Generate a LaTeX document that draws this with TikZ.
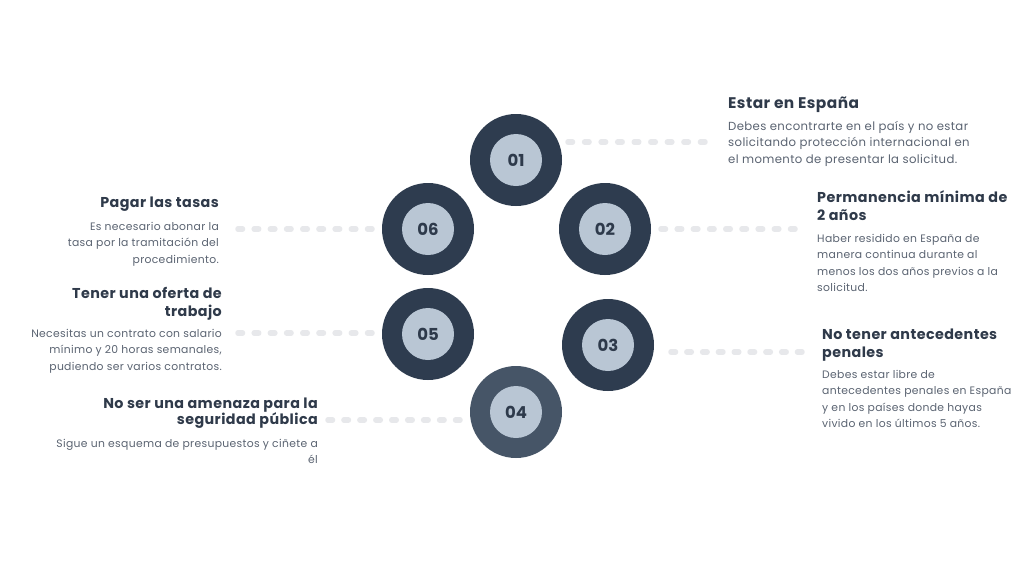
\documentclass[tikz,border=0pt]{standalone}
\usepackage{fontspec}
\setmainfont{Poppins}
\newfontfamily\spacedfont[LetterSpace=3]{Poppins}
\definecolor{ringdark}{HTML}{2E3C4F}
\definecolor{ringlight}{HTML}{465567}
\definecolor{core}{HTML}{B9C6D4}
\definecolor{numcol}{HTML}{2E3A4B}
\definecolor{titlecol}{HTML}{2F3A4A}
\definecolor{bodycol}{HTML}{5B6472}
\definecolor{dotcol}{HTML}{E7E8EB}
\newcommand\LeftLines[2]{\vtop{\baselineskip=#1\halign{##\hfil\cr#2\crcr}}}
\newcommand\RightLines[2]{\vtop{\baselineskip=#1\halign{\hfil##\cr#2\crcr}}}
\tikzset{
  ring/.style={circle, fill=ringdark, minimum size=92pt, inner sep=0pt},
  ringalt/.style={ring, fill=ringlight},
  corebox/.style={circle, fill=core, minimum size=52pt, inner sep=0pt, text=numcol, font=\fontsize{16.5}{16.5}\selectfont\bfseries},
  titletext/.style={inner sep=0pt, text=titlecol, font=\spacedfont\fontsize{14.3}{18}\selectfont\bfseries},
  titletextbig/.style={titletext, font=\spacedfont\fontsize{15.4}{18}\selectfont\bfseries},
  bodytext/.style={inner sep=0pt, text=bodycol, font=\spacedfont\fontsize{10.8}{16.5}\selectfont},
  bodytextbig/.style={bodytext, font=\spacedfont\fontsize{11.7}{16.5}\selectfont},
  dotline/.style={draw=dotcol, line width=5.5pt, line cap=round, dash pattern=on 4.5pt off #1pt}
}
\begin{document}
\begin{tikzpicture}[x=1pt,y=-1pt]
\useasboundingbox[fill=white] (0,0) rectangle (1024,576);
% rings
\node[ring] (r1) at (516,160) {};
\node[ring] (r2) at (605,229) {};
\node[ring] (r3) at (608,345) {};
\node[ringalt] (r4) at (516,412) {};
\node[ring] (r5) at (428,334) {};
\node[ring] (r6) at (428,229) {};
\node[corebox] (c1) at (r1) {01};
\node[corebox] (c2) at (r2) {02};
\node[corebox] (c3) at (r3) {03};
\node[corebox] (c4) at (r4) {04};
\node[corebox] (c5) at (r5) {05};
\node[corebox] (c6) at (r6) {06};
% dotted connectors
\coordinate (a1) at (568,142); \coordinate (b1) at (705,142);
\coordinate (a2) at (661,229); \coordinate (b2) at (795,229);
\coordinate (a3) at (671,352); \coordinate (b3) at (802,352);
\coordinate (a4) at (460,420); \coordinate (b4) at (328,420);
\coordinate (a5) at (372,333); \coordinate (b5) at (238,333);
\coordinate (a6) at (372,229); \coordinate (b6) at (238,229);
\draw[dotline=12.06] (a1) -- (b1);
\draw[dotline=11.69] (a2) -- (b2);
\draw[dotline=11.31] (a3) -- (b3);
\draw[dotline=11.44] (b4) -- (a4);
\draw[dotline=11.69] (b5) -- (a5);
\draw[dotline=11.69] (b6) -- (a6);
% right texts
\node[titletextbig, anchor=base west] (t1) at (728,108) {\LeftLines{18pt}{Estar en España}};
\node[bodytextbig, anchor=base west] (d1) at (728,130) {\LeftLines{16.5pt}{Debes encontrarte en el país y no estar\cr solicitando protección internacional en\cr el momento de presentar la solicitud.}};
\node[titletext, anchor=base west] (t2) at (817,202) {\LeftLines{18pt}{Permanencia mínima de\cr 2 años}};
\node[bodytext, anchor=base west] (d2) at (817,242) {\LeftLines{16.5pt}{Haber residido en España de\cr manera continua durante al\cr menos los dos años previos a la\cr solicitud.}};
\node[titletext, anchor=base west] (t3) at (822,339) {\LeftLines{18pt}{No tener antecedentes\cr penales}};
\node[bodytext, anchor=base west] (d3) at (822,378) {\LeftLines{16.5pt}{Debes estar libre de\cr antecedentes penales en España\cr y en los países donde hayas\cr vivido en los últimos 5 años.}};
% left texts
\node[titletext, anchor=base east] (t6) at (219,207) {\RightLines{18pt}{Pagar las tasas}};
\node[bodytext, anchor=base east] (d6) at (219,230) {\RightLines{16.5pt}{Es necesario abonar la\cr tasa por la tramitación del\cr procedimiento.}};
\node[titletext, anchor=base east] (t5) at (222,298) {\RightLines{18pt}{Tener una oferta de\cr trabajo}};
\node[bodytext, anchor=base east] (d5) at (222,337) {\RightLines{16.5pt}{Necesitas un contrato con salario\cr mínimo y 20 horas semanales,\cr pudiendo ser varios contratos.}};
\node[titletext, anchor=base east] (t4) at (318,408) {\RightLines{16.5pt}{No ser una amenaza para la\cr seguridad pública}};
\node[bodytext, anchor=base east] (d4) at (318,447) {\RightLines{16.5pt}{Sigue un esquema de presupuestos y ciñete a\cr él}};
\end{tikzpicture}
\end{document}
